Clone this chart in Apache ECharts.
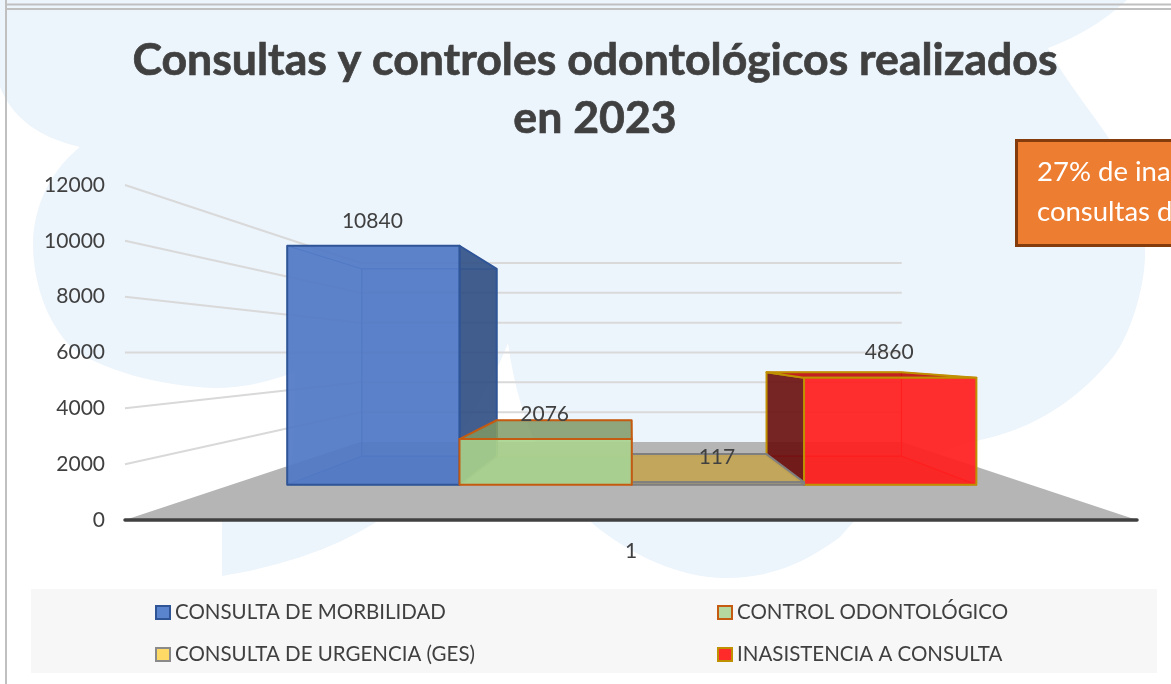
<!DOCTYPE html>
<html>
<head>
<meta charset="utf-8">
<style>html,body{margin:0;padding:0;background:#fff;overflow:hidden}#c{width:1171px;height:684px}</style>
<script src="https://cdn.jsdelivr.net/npm/echarts@6/dist/echarts.min.js"></script>
</head>
<body>
<div id="c"></div>
<script>
const titleText = 'Consultas y controles odontológicos realizados\nen 2023';
const categories = ['1'];
const yTicks = [2000, 4000, 6000, 8000, 10000, 12000];
const morbilidad = [10840];
const control = [2076];
const urgencia = [117];
const inasistencia = [4860];
const seriesNames = ['CONSULTA DE MORBILIDAD', 'CONTROL ODONTOLÓGICO', 'CONSULTA DE URGENCIA (GES)', 'INASISTENCIA A CONSULTA'];
const calloutLines = ['27% de ina', 'consultas d'];

const FONT = 'Lato';
const INK = '#404040';
const FRONT_S = 0.79, BACK_S = 0.6186, WALL_S = 0.535;
const EYE_VALUE = 6000;
const BAR_START = -0.43, BAR_W = 0.2155;

function frame(api) {
  const c = api.coord([0, 0]);
  const band = api.size([1, 0])[0];
  const eye = [c[0], api.coord([0, EYE_VALUE])[1]];
  const proj = (x, y, s) => [eye[0] + s * (x - eye[0]), eye[1] + s * (y - eye[1])];
  return { c, band, eye, proj };
}

function face(points, fill, stroke, lw) {
  return { type: 'polygon', shape: { points }, style: { fill, stroke: stroke || null, lineWidth: lw || 0, lineJoin: 'round' } };
}

function boxRenderer(slot, look) {
  return function (params, api) {
    const f = frame(api);
    const v = api.value(1);
    const xa = f.c[0] + (BAR_START + slot * BAR_W) * f.band;
    const xb = xa + BAR_W * f.band;
    const y0 = api.coord([0, 0])[1], y1 = api.coord([0, v])[1];
    const P = (x, y, s) => f.proj(x, y, s);
    const fa = P(xa, y0, FRONT_S), fb = P(xb, y0, FRONT_S), fc = P(xb, y1, FRONT_S), fd = P(xa, y1, FRONT_S);
    const ba = P(xa, y0, BACK_S), bb = P(xb, y0, BACK_S), bc = P(xb, y1, BACK_S), bd = P(xa, y1, BACK_S);
    const s = look.stroke, lw = look.lw;
    const leftShown = ba[0] < fa[0], rightShown = bb[0] > fb[0];
    const topShown = bd[1] < fd[1];
    return {
      type: 'group',
      children: [
        face([ba, bb, bc, bd], look.back, look.inner, 1),
        face([fa, ba, bb, fb], look.bottom, look.inner, 1),
        leftShown ? face([fa, fd, bd, ba], look.side, s, lw) : face([fa, fd, bd, ba], look.sideHidden, look.inner, 1),
        rightShown ? face([fb, fc, bc, bb], look.side, s, lw) : face([fb, fc, bc, bb], look.sideHidden, look.inner, 1),
        topShown ? face([fd, fc, bc, bd], look.top, s, lw) : face([fd, fc, bc, bd], look.sideHidden, look.inner, 1),
        face([fa, fb, fc, fd], look.front, s, lw),
        { type: 'text', z2: 50, style: {
            text: String(v), x: (fa[0] + fb[0]) / 2 - 1, y: fd[1] - 25, align: 'center', verticalAlign: 'middle',
            fill: INK, font: '21px ' + FONT } }
      ]
    };
  };
}

const looks = [
  { stroke: '#2f5597', lw: 2, inner: 'rgba(47,85,151,0.5)', front: 'rgba(80,120,198,0.92)', back: 'rgba(68,114,196,0.12)', bottom: 'rgba(40,80,160,0.25)', side: 'rgba(48,78,130,0.9)', sideHidden: 'rgba(68,114,196,0.06)', top: 'rgba(68,114,196,0.1)' },
  { stroke: '#c55a11', lw: 2, inner: 'rgba(191,170,90,0.6)', front: 'rgba(169,209,142,0.9)', back: 'rgba(169,209,142,0.15)', bottom: 'rgba(150,190,120,0.3)', side: 'rgba(110,140,100,0.55)', sideHidden: 'rgba(110,140,100,0.35)', top: 'rgba(125,150,100,0.82)' },
  { stroke: '#7f7f7f', lw: 2, inner: 'rgba(127,127,127,0.6)', front: 'rgba(200,165,80,0.3)', back: 'rgba(200,165,80,0.1)', bottom: 'rgba(200,165,80,0.3)', side: 'rgba(200,165,80,0.2)', sideHidden: 'rgba(200,165,80,0.1)', top: 'rgba(195,165,85,0.9)' },
  { stroke: '#bf9000', lw: 2, inner: 'rgba(255,0,0,0.7)', front: 'rgba(255,30,30,0.92)', back: 'rgba(255,0,0,0.08)', bottom: 'rgba(220,0,0,0.25)', side: 'rgba(105,15,15,0.9)', sideHidden: 'rgba(255,0,0,0.05)', top: 'rgba(190,15,15,0.92)' }
];
const legendSwatch = [
  { color: '#5b84cf', borderColor: '#2f5597', borderWidth: 2 },
  { color: '#b5d7a0', borderColor: '#c55a11', borderWidth: 2 },
  { color: '#ffd966', borderColor: '#8a8a8a', borderWidth: 2 },
  { color: '#ff2a2a', borderColor: '#bf9000', borderWidth: 2 }
];
const legendPos = [[155, 602], [717, 602], [155, 644], [717, 644]];
const values = [morbilidad, control, urgencia, inasistencia];
const paintOrder = [0, 3, 2, 1];

// decorative backdrop outline: start point then cubic segments
const blobStart = [0, 0];
const blobSegs = [
  [0,0,1127,0,1127,0],[1105,20,1080,36,1048,48],[1065,80,1090,110,1110,140],[1130,175,1146,215,1145,257],
  [1144,290,1130,335,1113,357],[1090,385,1050,425,980,440],[930,450,880,490,840,537],[815,555,780,578,726,578],
  [680,578,630,555,592,523],[550,480,520,430,508,343],[500,365,480,400,455,445],[430,480,380,550,222,576],
  [222,576,222,492,222,492],[222,492,290,468,290,468],[295,468,295,372,295,372],[260,385,235,388,214,388],
  [160,386,100,370,71,347],[45,320,33,280,33,243],[33,215,45,175,80,147],[50,140,15,125,0,87]
];
function flatten(start, segs) {
  const pts = [start];
  let p = start;
  segs.forEach(s => {
    for (let k = 1; k <= 16; k++) {
      const t = k / 16, u = 1 - t;
      pts.push([
        u*u*u*p[0] + 3*u*u*t*s[0] + 3*u*t*t*s[2] + t*t*t*s[4],
        u*u*u*p[1] + 3*u*u*t*s[1] + 3*u*t*t*s[3] + t*t*t*s[5]
      ]);
    }
    p = [s[4], s[5]];
  });
  return pts;
}

const barSeries = paintOrder.map((i, k) => ({
  type: 'custom',
  name: seriesNames[i],
  z: 5 + k,
  data: categories.map((c, j) => [j, values[i][j]]),
  encode: { x: 0, y: 1 },
  renderItem: boxRenderer(i, looks[i]),
  silent: true
}));

const option = {
  animation: false,
  backgroundColor: '#fff',
  title: {
    text: titleText, left: 590, top: 27, textAlign: 'center',
    textStyle: { fontFamily: FONT, fontWeight: 'bold', fontSize: 44.6, lineHeight: 58, color: INK, textBorderColor: INK, textBorderWidth: 0.7 }
  },
  grid: { left: 125, right: 34, top: 185, bottom: 164, containLabel: false },
  xAxis: {
    type: 'category', data: categories, boundaryGap: true, z: 4,
    axisTick: { show: false },
    axisLine: { lineStyle: { color: INK, width: 3.5 } },
    axisLabel: { fontFamily: FONT, fontSize: 21, color: INK, margin: 21 }
  },
  yAxis: {
    type: 'value', min: 0, max: 12000, interval: 2000,
    axisLine: { show: false }, axisTick: { show: false }, splitLine: { show: false },
    axisLabel: { fontFamily: FONT, fontSize: 21, color: INK, margin: 20, padding: [5, 0, 0, 0], formatter: v => String(v) }
  },
  legend: seriesNames.map((n, i) => ({
    left: legendPos[i][0], top: legendPos[i][1], itemWidth: 14, itemHeight: 13,
    selectedMode: false, padding: 0,
    data: [{ name: n, icon: 'rect', itemStyle: legendSwatch[i] }],
    textStyle: { fontFamily: FONT, fontSize: 20.5, color: INK }
  })),
  graphic: [
    { type: 'polygon', z: -20, shape: { points: flatten(blobStart, blobSegs) }, style: { fill: '#ecf4fc' }, silent: true },
    { type: 'rect', z: -10, shape: { x: 31, y: 589, width: 1126, height: 84 }, style: { fill: '#f7f7f7' }, silent: true },
    { type: 'line', z: -5, shape: { x1: 6, y1: 4.5, x2: 1171, y2: 4.5 }, style: { stroke: '#c0c0c0', lineWidth: 2 }, silent: true },
    { type: 'line', z: -5, shape: { x1: 6, y1: 9, x2: 1171, y2: 9 }, style: { stroke: '#c0c0c0', lineWidth: 2 }, silent: true },
    { type: 'line', z: -5, shape: { x1: 6, y1: 0, x2: 6, y2: 684 }, style: { stroke: '#c0c0c0', lineWidth: 2 }, silent: true },
    { type: 'rect', z: 100, shape: { x: 1016.5, y: 140.5, width: 200, height: 105 }, style: { fill: '#ed7d31', stroke: '#843c0c', lineWidth: 3 }, silent: true },
    { type: 'text', z: 101, x: 1037, y: 172, style: { text: calloutLines[0], fill: '#fff', font: '27.5px ' + FONT, verticalAlign: 'middle' }, silent: true },
    { type: 'text', z: 101, x: 1037, y: 212, style: { text: calloutLines[1], fill: '#fff', font: '27.5px ' + FONT, verticalAlign: 'middle' }, silent: true }
  ],
  series: [
    {
      type: 'custom', name: 'suelo', z: 1, silent: true,
      data: [[0, 0]], encode: { x: 0, y: 1 },
      renderItem: function (p, api) {
        const f = frame(api);
        const half = f.band / 2, y = f.c[1];
        return face([[f.c[0] - half, y], [f.c[0] + half, y], f.proj(f.c[0] + half, y, WALL_S), f.proj(f.c[0] - half, y, WALL_S)], '#b5b5b5');
      }
    },
    {
      type: 'custom', name: 'paredes', z: 2, silent: true,
      data: yTicks.map(t => [0, t]), encode: { x: 0, y: 1 },
      renderItem: function (p, api) {
        const f = frame(api);
        const half = f.band / 2, y = api.coord([0, api.value(1)])[1];
        const a = [f.c[0] - half, y];
        const b = f.proj(a[0], y, WALL_S), d = f.proj(f.c[0] + half, y, WALL_S);
        return { type: 'polyline', shape: { points: [a, b, d] }, style: { fill: null, stroke: '#d9d9d9', lineWidth: 2 } };
      }
    }
  ].concat(barSeries)
};
echarts.init(document.getElementById('c'), null, { renderer: 'canvas' }).setOption(option);
</script>
</body>
</html>
